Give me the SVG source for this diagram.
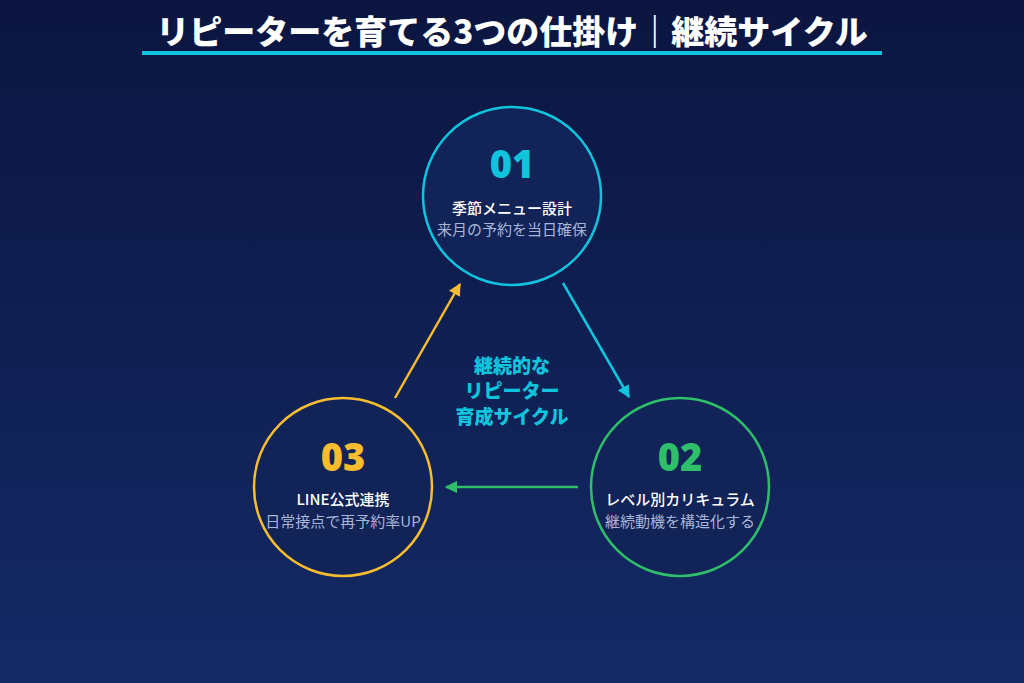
<svg xmlns="http://www.w3.org/2000/svg" width="1024" height="683" viewBox="0 0 1024 683">
<defs>
<linearGradient id="bg" x1="0" y1="0" x2="0" y2="1"><stop offset="0" stop-color="#0b1540"/><stop offset="1" stop-color="#142a66"/></linearGradient>
<marker id="mc" viewBox="0 0 10 10" refX="9" refY="5" markerWidth="5" markerHeight="5" orient="auto"><path d="M0,0L10,5L0,10z" fill="#0fc4dc"/></marker>
<marker id="mg" viewBox="0 0 10 10" refX="9" refY="5" markerWidth="5" markerHeight="5" orient="auto"><path d="M0,0L10,5L0,10z" fill="#2fbf6a"/></marker>
<marker id="my" viewBox="0 0 10 10" refX="9" refY="5" markerWidth="5" markerHeight="5" orient="auto"><path d="M0,0L10,5L0,10z" fill="#f7bd2e"/></marker>
</defs>
<style>
text{font-family:"Noto Sans CJK JP","Noto Sans",sans-serif;text-anchor:middle}
.num{font-family:"Noto Sans","Noto Sans CJK JP",sans-serif;font-size:38px;font-weight:900}
.t{font-size:15px;fill:#ffffff;font-weight:500}
.s{font-size:15px;fill:#a9b6d8}
circle{fill:#112357;stroke-width:2.5}
line{stroke-width:2.5}
</style>
<rect width="1024" height="683" fill="url(#bg)"/>
<text x="512" y="44" font-size="33" font-weight="900" fill="#ffffff">リピーターを育てる3つの仕掛け｜継続サイクル</text>
<rect x="142" y="51" width="740" height="4" fill="#0fc4dc"/>
<g id="connectors">
<line x1="563" y1="283" x2="629" y2="397" stroke="#0fc4dc" marker-end="url(#mc)"/>
<line x1="578" y1="487" x2="446" y2="487" stroke="#2fbf6a" marker-end="url(#mg)"/>
<line x1="395" y1="398" x2="460" y2="284" stroke="#f7bd2e" marker-end="url(#my)"/>
</g>
<g id="center">
<text x="512" y="373" font-size="19" font-weight="900" fill="#0fc4dc">継続的な</text>
<text x="512" y="398" font-size="19" font-weight="900" fill="#0fc4dc">リピーター</text>
<text x="512" y="424" font-size="19" font-weight="900" fill="#0fc4dc">育成サイクル</text>
</g>
<g id="n1">
<circle cx="512" cy="196" r="89" stroke="#0fc4dc"/>
<text class="num" x="512" y="178" fill="#0fc4dc">01</text>
<text class="t" x="512" y="214">季節メニュー設計</text>
<text class="s" x="512" y="235">来月の予約を当日確保</text>
</g>
<g id="n2">
<circle cx="680" cy="487" r="89" stroke="#2fbf6a"/>
<text class="num" x="680" y="471" fill="#2fbf6a">02</text>
<text class="t" x="680" y="505">レベル別カリキュラム</text>
<text class="s" x="680" y="527">継続動機を構造化する</text>
</g>
<g id="n3">
<circle cx="343" cy="487" r="89" stroke="#f7bd2e"/>
<text class="num" x="343" y="471" fill="#f7bd2e">03</text>
<text class="t" x="343" y="505">LINE公式連携</text>
<text class="s" x="343" y="527">日常接点で再予約率UP</text>
</g>
</svg>
